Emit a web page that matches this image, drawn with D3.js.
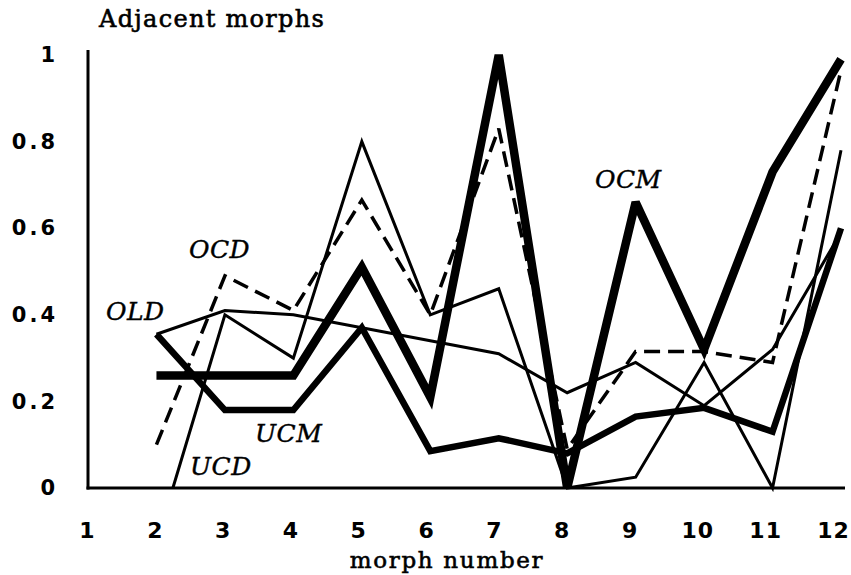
<!DOCTYPE html>
<html>
<head>
<meta charset="utf-8">
<script src="https://cdn.jsdelivr.net/npm/d3@7"></script>
<style>
  html, body { margin: 0; padding: 0; background: #fff; }
  svg { display: block; }
</style>
</head>
<body>
<svg id="chart" width="851" height="575"></svg>
<script>
// ---- data ----
const morphTicks = [1, 2, 3, 4, 5, 6, 7, 8, 9, 10, 11, 12];
const yTicks = [0, 0.2, 0.4, 0.6, 0.8, 1];
const morphs = [2, 3, 4, 5, 6, 7, 8, 9, 10, 11, 12];
const ocmValues = [0.26, 0.26, 0.26, 0.51, 0.21, 1.0, 0.0, 0.66, 0.32, 0.73, 0.99];
const ucmValues = [0.355, 0.18, 0.18, 0.37, 0.085, 0.115, 0.08, 0.165, 0.185, 0.13, 0.60];
const ocdValues = [0.10, 0.49, 0.41, 0.665, 0.40, 0.83, 0.09, 0.315, 0.315, 0.29, 0.965];
const oldValues = [0.355, 0.41, 0.40, 0.37, 0.34, 0.31, 0.22, 0.29, 0.19, 0.32, 0.59];
const ucdMorphs = [2.24, 3, 4, 5, 6, 7, 8, 9, 10, 11, 12];
const ucdValues = [0.0, 0.40, 0.30, 0.80, 0.40, 0.46, 0.0, 0.025, 0.29, 0.0, 0.78];
const seriesNames = ["OCD", "OLD", "UCM", "UCD", "OCM"];

// ---- layout ----
const svg = d3.select("#chart");
const x = d3.scaleLinear().domain([1, 12]).range([88, 841]);
const xLabel = d3.scaleLinear().domain([1, 12]).range([87, 833]);
const y = d3.scaleLinear().domain([0, 1]).range([488, 55]);

svg.append("rect").attr("width", 851).attr("height", 575).attr("fill", "#fff");

// axes (labels only)
const yAxis = svg.append("g").attr("transform", `translate(${x(1)},0)`)
  .call(d3.axisLeft(y).tickValues(yTicks).tickSize(0).tickPadding(30)
    .tickFormat(d => d === 0 ? "0" : d === 1 ? "1" : d3.format(".1f")(d)));
yAxis.select(".domain").remove();
yAxis.selectAll("text")
  .attr("font-family", "DejaVu Sans").attr("font-weight", "bold")
  .attr("font-size", 21).attr("letter-spacing", "3px").attr("fill", "#000");

const xAxis = svg.append("g").attr("transform", `translate(0,${y(0)})`)
  .call(d3.axisBottom(xLabel).tickValues(morphTicks).tickSize(0).tickPadding(34)
    .tickFormat(d3.format("d")));
xAxis.select(".domain").remove();
xAxis.selectAll("text")
  .attr("font-family", "DejaVu Sans").attr("font-weight", "bold")
  .attr("font-size", 22).attr("letter-spacing", "1px").attr("fill", "#000");

// axis lines
svg.append("line").attr("x1", x(1)).attr("x2", x(1)).attr("y1", y(1) - 5).attr("y2", y(0) + 1.5)
  .attr("stroke", "#000").attr("stroke-width", 3);
svg.append("line").attr("x1", x(1) - 1.5).attr("x2", x(12) + 4).attr("y1", y(0)).attr("y2", y(0))
  .attr("stroke", "#000").attr("stroke-width", 3);

// lines
const line = d3.line().x(d => x(d[0])).y(d => y(d[1]));
const zip = (xs, vs) => xs.map((m, i) => [m, vs[i]]);

function drawSeries(pts, width, dash) {
  const p = svg.append("path").datum(pts).attr("d", line)
    .attr("fill", "none").attr("stroke", "#000").attr("stroke-width", width)
    .attr("stroke-linejoin", "miter").attr("stroke-miterlimit", 3);
  if (dash) p.attr("stroke-dasharray", dash);
}
drawSeries(zip(morphs, oldValues), 3);
drawSeries(zip(ucdMorphs, ucdValues), 3);
drawSeries(zip(morphs, ocdValues), 3.5, "16,8");
drawSeries(zip(morphs, ucmValues), 6.5);
drawSeries(zip(morphs, ocmValues), 8.5);

// series labels
const labelPos = {
  OCD: [189, 258], OLD: [106, 320], UCM: [255, 442], UCD: [190, 475], OCM: [595, 188]
};
seriesNames.forEach(n => {
  svg.append("text").attr("x", labelPos[n][0]).attr("y", labelPos[n][1])
    .attr("font-family", "DejaVu Serif").attr("font-style", "italic")
    .attr("font-size", 25).attr("letter-spacing", "0.5px").attr("fill", "#000")
    .attr("stroke", "#000").attr("stroke-width", 0.4)
    .text(n);
});

// titles
svg.append("text").attr("x", 99).attr("y", 27)
  .attr("font-family", "DejaVu Serif").attr("font-size", 24)
  .attr("letter-spacing", "1.3px").attr("fill", "#000")
  .attr("stroke", "#000").attr("stroke-width", 0.6)
  .text("Adjacent morphs");
svg.append("text").attr("x", 447).attr("y", 568).attr("text-anchor", "middle")
  .attr("font-family", "DejaVu Serif").attr("font-size", 23)
  .attr("letter-spacing", "1.7px").attr("fill", "#000")
  .attr("stroke", "#000").attr("stroke-width", 0.6)
  .text("morph number");
</script>
</body>
</html>
